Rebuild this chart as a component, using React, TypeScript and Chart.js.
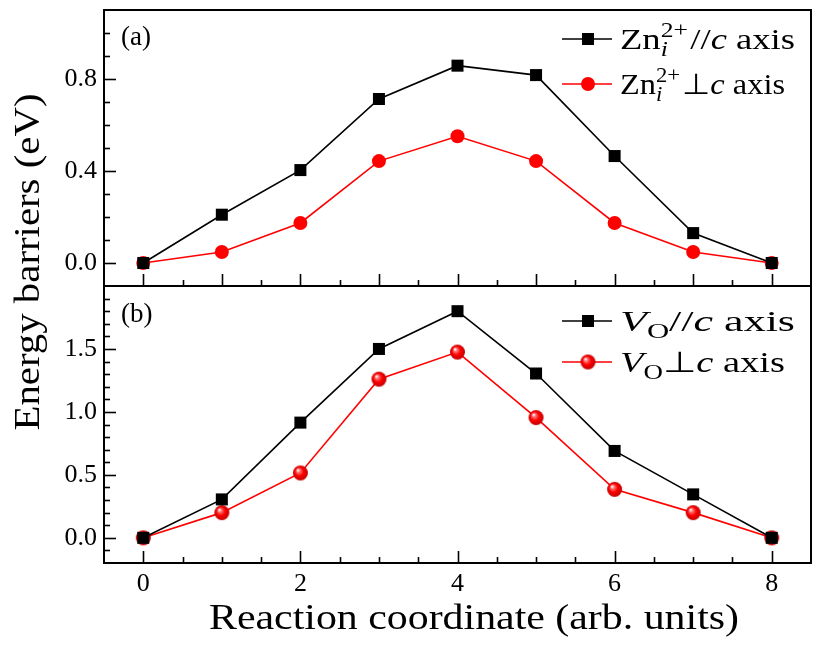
import React, { useEffect, useRef } from 'react';
import { Chart, registerables } from 'chart.js';

Chart.register(...registerables);

// ---------- data ----------
const COORD = [0, 1, 2, 3, 4, 5, 6, 7, 8];
const ZN_PAR = [0, 0.21, 0.404, 0.713, 0.858, 0.817, 0.465, 0.13, 0];
const ZN_PERP = [0, 0.048, 0.174, 0.443, 0.551, 0.443, 0.174, 0.048, 0];
const VO_PAR = [0, 0.305, 0.915, 1.5, 1.8, 1.305, 0.69, 0.345, 0];
const VO_PERP = [0, 0.2, 0.515, 1.26, 1.475, 0.955, 0.385, 0.2, 0];

const X_TICKS = [0, 2, 4, 6, 8];
const YA_TICKS = [0, 0.4, 0.8];
const YB_TICKS = [0, 0.5, 1.0, 1.5];

const X_TITLE = 'Reaction coordinate (arb. units)';
const Y_TITLE = 'Energy barriers (eV)';
const PANEL_A = '(a)';
const PANEL_B = '(b)';

const FONT = '"Liberation Serif", "Times New Roman", serif';

type Part = { t?: string; it?: boolean; sub?: string; sup?: string; subIt?: boolean; gap?: number };

const LEG_A1: Part[] = [{ t: 'Zn' }, { sub: 'i', subIt: true, sup: '2+', gap: 2 }, { t: '//' }, { t: 'c', it: true }, { t: ' axis' }];
const LEG_A2: Part[] = [{ t: 'Zn' }, { sub: 'i', subIt: true, sup: '2+', gap: 2 }, { t: '\u22A5' }, { t: 'c', it: true }, { t: ' axis' }];
const LEG_B1: Part[] = [{ t: 'V', it: true }, { sub: 'O' }, { t: '//' }, { t: 'c', it: true }, { t: ' axis' }];
const LEG_B2: Part[] = [{ t: 'V', it: true }, { sub: 'O' }, { t: '\u22A5' }, { t: 'c', it: true }, { t: ' axis' }];

function sphere(r: number) {
  const c = document.createElement('canvas');
  const s = Math.ceil(r * 2) + 2;
  c.width = s;
  c.height = s;
  const g = c.getContext('2d')!;
  const cx = s / 2, cy = s / 2;
  const grad = g.createRadialGradient(cx - r * 0.35, cy - r * 0.4, r * 0.05, cx, cy, r);
  grad.addColorStop(0, '#ffffff');
  grad.addColorStop(0.22, '#ff7070');
  grad.addColorStop(0.55, '#ff0000');
  grad.addColorStop(1, '#c00000');
  g.fillStyle = grad;
  g.beginPath();
  g.arc(cx, cy, r, 0, Math.PI * 2);
  g.fill();
  return c;
}

function richWidth(ctx: CanvasRenderingContext2D, parts: Part[], size: number) {
  let w = 0;
  for (const p of parts) {
    if (p.sub !== undefined || p.sup !== undefined) {
      const ss = size * 0.7;
      let m = 0;
      if (p.sup) { ctx.font = `${ss}px ${FONT}`; m = Math.max(m, ctx.measureText(p.sup).width); }
      if (p.sub) { ctx.font = `${p.subIt ? 'italic ' : ''}${ss}px ${FONT}`; m = Math.max(m, ctx.measureText(p.sub).width); }
      w += m + (p.gap || 0);
    } else if (p.t) {
      ctx.font = `${p.it ? 'italic ' : ''}${size}px ${FONT}`;
      w += ctx.measureText(p.t).width + (p.gap || 0);
    }
  }
  return w;
}

function drawRich(ctx: CanvasRenderingContext2D, x: number, y: number, parts: Part[], size: number) {
  let cx = x;
  ctx.textAlign = 'left';
  ctx.textBaseline = 'alphabetic';
  for (const p of parts) {
    if (p.sub !== undefined || p.sup !== undefined) {
      const ss = size * 0.7;
      let w = 0;
      if (p.sup) {
        ctx.font = `${ss}px ${FONT}`;
        ctx.fillText(p.sup, cx, y - size * 0.42);
        w = Math.max(w, ctx.measureText(p.sup).width);
      }
      if (p.sub) {
        ctx.font = `${p.subIt ? 'italic ' : ''}${ss}px ${FONT}`;
        ctx.fillText(p.sub, cx, y + size * 0.25);
        w = Math.max(w, ctx.measureText(p.sub).width);
      }
      cx += w + (p.gap || 0);
    } else if (p.t) {
      ctx.font = `${p.it ? 'italic ' : ''}${size}px ${FONT}`;
      ctx.fillText(p.t, cx, y);
      cx += ctx.measureText(p.t).width + (p.gap || 0);
    }
  }
}

export default function App() {
  const ref = useRef<HTMLCanvasElement>(null);

  useEffect(() => {
    const canvas = ref.current!;
    const ball = sphere(7.5);

    const pts = (ys: number[]) => COORD.map((x, i) => ({ x, y: ys[i] }));

    const decor = {
      id: 'decor',
      afterDraw(chart: any) {
        const ctx: CanvasRenderingContext2D = chart.ctx;
        const xs = chart.scales.x;
        const ya = chart.scales.yA;
        const yb = chart.scales.yB;
        const L = chart.chartArea.left, R = chart.chartArea.right;
        const T = chart.chartArea.top, B = chart.chartArea.bottom;
        const mid = ya.bottom;
        ctx.save();
        ctx.strokeStyle = '#000';
        ctx.fillStyle = '#000';

        // ticks
        ctx.lineWidth = 1.6;
        const hTick = (scale: any, v: number, len: number) => {
          const py = Math.round(scale.getPixelForValue(v)) + 0.5;
          ctx.beginPath();
          ctx.moveTo(L, py);
          ctx.lineTo(L + len, py);
          ctx.stroke();
        };
        for (let k = 0; k <= 12; k++) {
          const v = -0.1 + k * 0.1;
          if (v > ya.min + 1e-6 && v < ya.max - 1e-6) hTick(ya, v, Math.abs(v / 0.4 - Math.round(v / 0.4)) < 1e-6 ? 12 : 6);
        }
        for (let k = 0; k <= 22; k++) {
          const v = -0.2 + k * 0.1;
          if (v > yb.min + 1e-6 && v < yb.max - 1e-6) hTick(yb, v, Math.abs(v / 0.5 - Math.round(v / 0.5)) < 1e-6 ? 12 : 6);
        }
        const vTick = (base: number, v: number, len: number) => {
          const px = Math.round(xs.getPixelForValue(v)) + 0.5;
          ctx.beginPath();
          ctx.moveTo(px, base);
          ctx.lineTo(px, base - len);
          ctx.stroke();
        };
        for (let k = 0; k <= 16; k++) {
          const v = k * 0.5;
          vTick(mid, v, Number.isInteger(v) ? 12 : 6);
          vTick(B, v, v % 2 === 0 ? 12 : 6);
        }

        // panel labels
        ctx.font = `27px ${FONT}`;
        ctx.textAlign = 'left';
        ctx.textBaseline = 'middle';
        ctx.fillStyle = '#fff';
        ctx.fillRect(116, 19, 48, 36);
        ctx.fillRect(116, 297, 48, 36);
        ctx.fillStyle = '#000';
        ctx.fillText(PANEL_A, 121, 38);
        ctx.fillText(PANEL_B, 121, 315);

        // frame
        ctx.strokeStyle = '#000';
        ctx.lineWidth = 2;
        ctx.strokeRect(L, T, R - L, B - T);
        ctx.beginPath();
        ctx.moveTo(L, mid);
        ctx.lineTo(R, mid);
        ctx.stroke();

        // legends
        const legendRow = (ly: number, color: string, marker: 'rect' | 'circle' | 'ball', parts: Part[], target: number) => {
          ctx.strokeStyle = color;
          ctx.fillStyle = color;
          ctx.lineWidth = 1.6;
          ctx.beginPath();
          ctx.moveTo(562, ly);
          ctx.lineTo(612, ly);
          ctx.stroke();
          if (marker === 'rect') ctx.fillRect(582, ly - 6, 12, 12);
          else if (marker === 'circle') {
            ctx.beginPath();
            ctx.arc(588, ly, 7, 0, Math.PI * 2);
            ctx.fill();
          } else ctx.drawImage(ball, 588 - ball.width / 2, ly - ball.height / 2);
          ctx.fillStyle = '#000';
          const size = 29;
          const w = richWidth(ctx, parts, size);
          ctx.save();
          ctx.translate(620, ly + 10);
          ctx.scale(target / w, 1);
          drawRich(ctx, 0, 0, parts, size);
          ctx.restore();
        };
        legendRow(39, '#000', 'rect', LEG_A1, 175);
        legendRow(84, '#ff0000', 'circle', LEG_A2, 165);
        legendRow(321, '#000', 'rect', LEG_B1, 175);
        legendRow(362, '#ff0000', 'ball', LEG_B2, 165);

        // axis titles (stretched to match the reference widths)
        ctx.fillStyle = '#000';
        ctx.textAlign = 'center';
        ctx.textBaseline = 'middle';
        ctx.font = `35px ${FONT}`;
        const wx = ctx.measureText(X_TITLE).width;
        ctx.save();
        ctx.translate(474, 620);
        ctx.scale(530 / wx, 1);
        ctx.fillText(X_TITLE, 0, 0);
        ctx.restore();
        const wy = ctx.measureText(Y_TITLE).width;
        ctx.save();
        ctx.translate(30, 262);
        ctx.rotate(-Math.PI / 2);
        ctx.scale(337 / wy, 1);
        ctx.fillText(Y_TITLE, 0, 0);
        ctx.restore();

        ctx.restore();
      },
    };

    const tickFont = { family: FONT, size: 26 };
    const noPadY = (s: any) => { s.width = 104; s.paddingTop = 0; s.paddingBottom = 0; };

    const chart = new Chart(canvas, {
      type: 'line',
      data: {
        datasets: [
          {
            label: 'Zn par', data: pts(ZN_PAR), yAxisID: 'yA',
            borderColor: '#000', backgroundColor: '#000', borderWidth: 1.6,
            pointStyle: 'rect', pointRadius: 8.5, pointBorderWidth: 0, tension: 0,
          },
          {
            label: 'Zn perp', data: pts(ZN_PERP), yAxisID: 'yA',
            borderColor: '#ff0000', backgroundColor: '#ff0000', borderWidth: 1.6,
            pointStyle: 'circle', pointRadius: 7, pointBorderWidth: 0, tension: 0,
          },
          {
            label: 'VO par', data: pts(VO_PAR), yAxisID: 'yB',
            borderColor: '#000', backgroundColor: '#000', borderWidth: 1.6,
            pointStyle: 'rect', pointRadius: 8.5, pointBorderWidth: 0, tension: 0,
          },
          {
            label: 'VO perp', data: pts(VO_PERP), yAxisID: 'yB',
            borderColor: '#ff0000', backgroundColor: '#ff0000', borderWidth: 1.6,
            pointStyle: ball as any, pointRadius: 7.5, pointBorderWidth: 0, tension: 0,
          },
        ],
      },
      options: {
        responsive: false,
        animation: false,
        events: [],
        layout: { padding: { top: 10, right: 10, left: 0, bottom: 0 } },
        plugins: { legend: { display: false }, tooltip: { enabled: false } },
        scales: {
          x: {
            type: 'linear', min: -0.5, max: 8.5,
            afterBuildTicks: (a: any) => { a.ticks = X_TICKS.map((v) => ({ value: v })); },
            afterFit: (s: any) => { s.height = 83; s.paddingLeft = 0; s.paddingRight = 0; },
            ticks: { font: tickFont, color: '#000', padding: 6, autoSkip: false, maxRotation: 0, callback: (v: any) => String(v) },
            grid: { display: false, drawTicks: false },
            border: { display: false },
          },
          yB: {
            type: 'linear', position: 'left', stack: 'panels', stackWeight: 277,
            min: -0.2, max: 2.0,
            afterBuildTicks: (a: any) => { a.ticks = YB_TICKS.map((v) => ({ value: v })); },
            afterFit: noPadY,
            ticks: { font: tickFont, color: '#000', padding: 7, autoSkip: false, callback: (v: any) => Number(v).toFixed(1) },
            grid: { display: false, drawTicks: false },
            border: { display: false },
          },
          yA: {
            type: 'linear', position: 'left', stack: 'panels', stackWeight: 276,
            min: -0.1, max: 1.1,
            afterBuildTicks: (a: any) => { a.ticks = YA_TICKS.map((v) => ({ value: v })); },
            afterFit: noPadY,
            ticks: { font: tickFont, color: '#000', padding: 7, autoSkip: false, callback: (v: any) => Number(v).toFixed(1) },
            grid: { display: false, drawTicks: false },
            border: { display: false },
          },
        },
      } as any,
      plugins: [decor],
    });

    return () => chart.destroy();
  }, []);

  return (
    <div style={{ position: 'fixed', left: 0, top: 0, width: 821, height: 646, background: '#fff' }}>
      <canvas ref={ref} width={821} height={646} style={{ display: 'block' }} />
    </div>
  );
}
